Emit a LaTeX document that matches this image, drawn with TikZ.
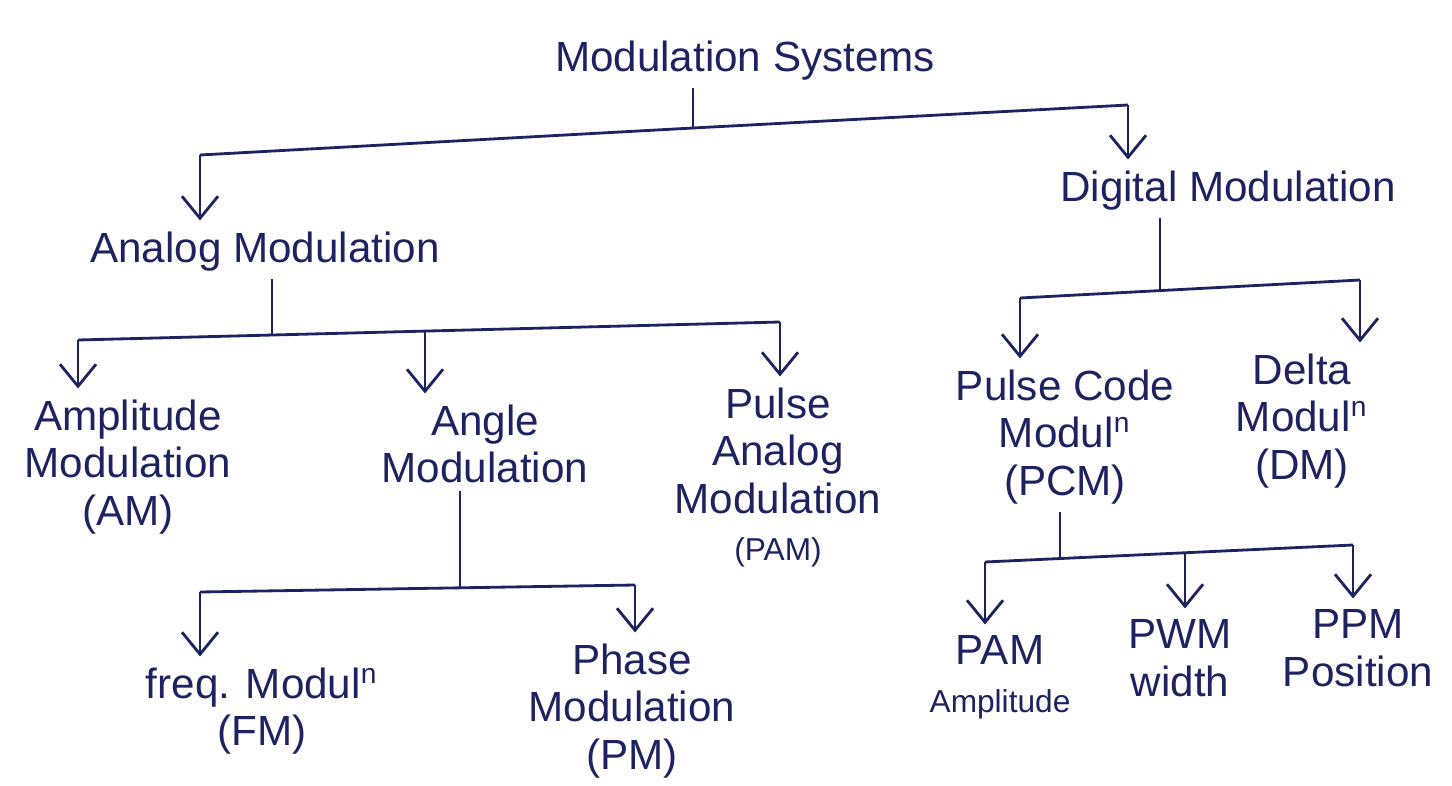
\documentclass[tikz,border=0pt]{standalone}
\usepackage{fontspec}
\setmainfont{Liberation Sans}
\usetikzlibrary{arrows.meta,positioning}
\definecolor{ink}{RGB}{30,34,96}
\tikzset{
	%Define standard arrow tip
	>={Straight Barb[length=2.2mm,width=3.6mm]},
	%Define style for labels
	term/.style={
		anchor=north,
		align=center,
		inner sep=2pt,
		text=ink,
		font=\fontsize{12}{13.5}\selectfont},
	% Define line styles
	stem/.style={
		draw=ink,
		thick},
	pil/.style={
		->,
		draw=ink,
		thick,
		shorten >=1pt,}
}
\begin{document}
\begin{tikzpicture}[x=0.01cm,y=-0.01cm]
	\useasboundingbox (0,0) rectangle (1452,785);
	
	\node[term,anchor=south] (root) at (745,88) {Modulation Systems};
	
	\node[term] (analog) at (265,224) {Analog Modulation};
	\node[term] (digital) at (1228,163) {Digital Modulation};
	
	\node[term] (am) at (128,392) {Amplitude\\Modulation\\(AM)};
	\node[term] (angle) at (485,397) {Angle\\Modulation};
	\node[term] (pam) at (778,380) {Pulse\\Analog\\Modulation\\{\small (PAM)}};
	
	\node[term] (fm) at (262,660) {freq. Modul\textsuperscript{n}\\(FM)};
	\node[term] (pm) at (632,636) {Phase\\Modulation\\(PM)};
	
	\node[term] (pcm) at (1065,362) {Pulse Code\\Modul\textsuperscript{n}\\(PCM)};
	\node[term] (dm) at (1302,346) {Delta\\Modul\textsuperscript{n}\\(DM)};
	
	\node[term] (pamd) at (1000,628) {PAM\\{\small Amplitude}};
	\node[term] (pwm) at (1180,612) {PWM\\width};
	\node[term] (ppm) at (1358,602) {PPM\\Position};
	
	% junctions on the bars
	\coordinate (j0) at (693,128);
	\coordinate (jA) at (200,155);
	\coordinate (jD) at (1128,105);
	\coordinate (j1) at (272,335);
	\coordinate (jAM) at (78,340);
	\coordinate (jAng) at (425,331);
	\coordinate (jPAM) at (780,322);
	\coordinate (j2) at (460,589);
	\coordinate (jFM) at (200,592);
	\coordinate (jPM) at (635,585);
	\coordinate (j3) at (1160,290);
	\coordinate (jPCM) at (1020,298);
	\coordinate (jDM) at (1360,280);
	\coordinate (j4) at (1060,558);
	\coordinate (jA4) at (985,562);
	\coordinate (jW4) at (1185,553);
	\coordinate (jP4) at (1353,545);
	
	\draw[stem] (root.south -| j0) -- (j0);
	\draw[stem] (jA) -- (j0) -- (jD);
	\draw[pil] (jA) -- (jA |- analog.north);
	\draw[pil] (jD) -- (jD |- digital.north);
	
	\draw[stem] (analog.south -| j1) -- (j1);
	\draw[stem] (jAM) -- (jPAM);
	\draw[pil] (jAM) -- (jAM |- am.north);
	\draw[pil] (jAng) -- (jAng |- angle.north);
	\draw[pil] (jPAM) -- (jPAM |- pam.north);
	
	\draw[stem] (angle.south -| j2) -- (j2);
	\draw[stem] (jFM) -- (jPM);
	\draw[pil] (jFM) -- (jFM |- fm.north);
	\draw[pil] (jPM) -- (jPM |- pm.north);
	
	\draw[stem] (digital.south -| j3) -- (j3);
	\draw[stem] (jPCM) -- (jDM);
	\draw[pil] (jPCM) -- (jPCM |- pcm.north);
	\draw[pil] (jDM) -- (jDM |- dm.north);
	
	\draw[stem] (pcm.south -| j4) -- (j4);
	\draw[stem] (jA4) -- (jP4);
	\draw[pil] (jA4) -- (jA4 |- pamd.north);
	\draw[pil] (jW4) -- (jW4 |- pwm.north);
	\draw[pil] (jP4) -- (jP4 |- ppm.north);
	
\end{tikzpicture}
\end{document}
